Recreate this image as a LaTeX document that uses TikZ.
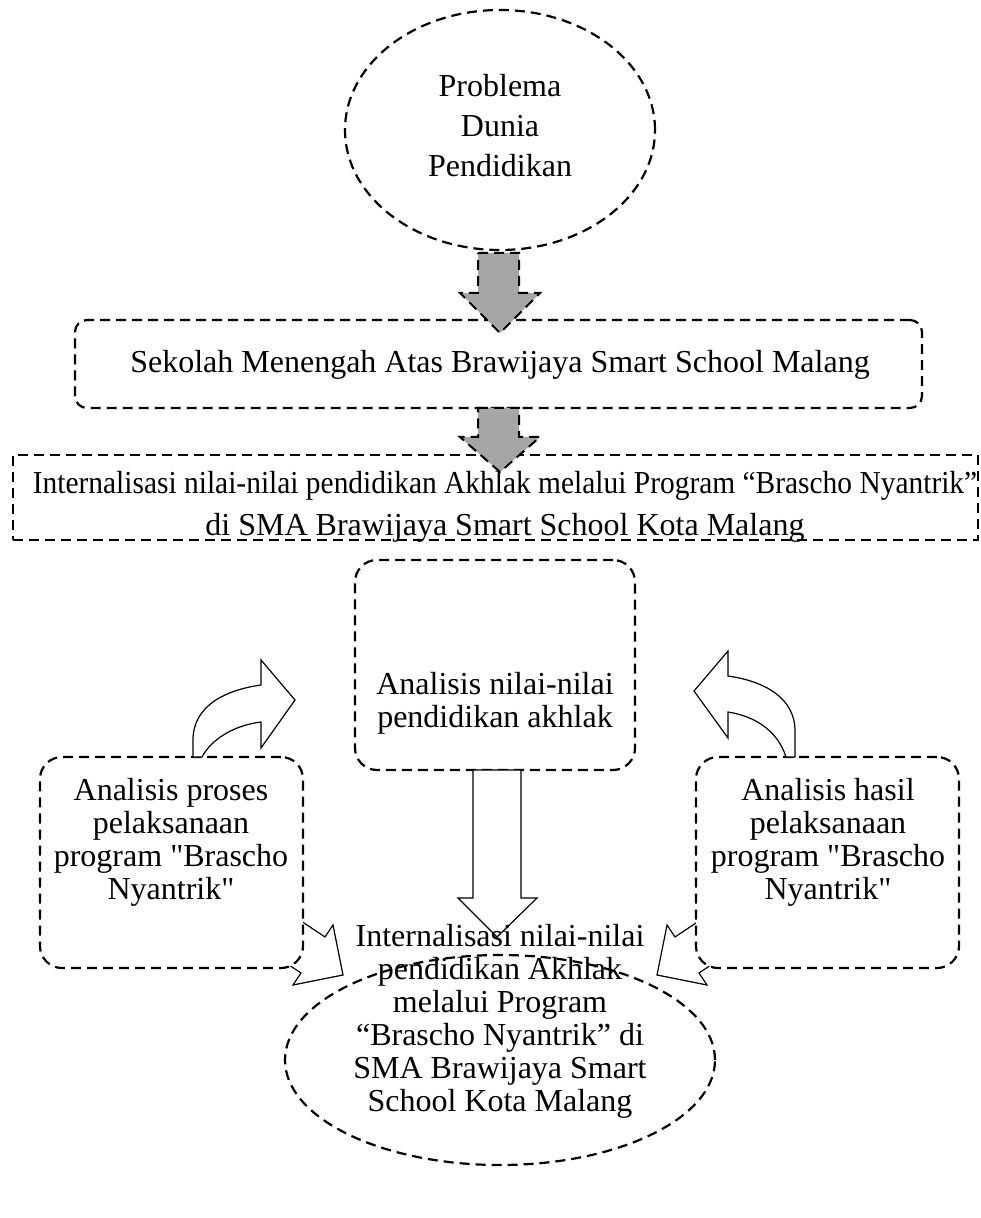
\documentclass[tikz,border=0pt]{standalone}
\usepackage{fontspec}
\usepackage{graphicx}
\setmainfont{Liberation Serif}[Ligatures=TeXOff]
\usetikzlibrary{shapes.geometric}
\definecolor{arrgray}{RGB}{166,166,166}
\begin{document}
\begin{tikzpicture}[x=0.5pt,y=-0.5pt,
  dsh/.style={draw=black, line width=1.1pt, dash pattern=on 5pt off 3pt},
  rbox/.style={dsh, fill=white, rounded corners=11pt, inner sep=0pt},
  txt/.style={align=center, inner sep=0pt, font=\fontsize{16}{16.5}\selectfont},
  grayarrow/.style={dsh, fill=arrgray, line width=1pt},
  whitearrow/.style={draw=black, fill=white, line width=0.6pt, line join=miter}]
\useasboundingbox (0,0) rectangle (980,1218);

% diagonal arrows (behind boxes)
\draw[whitearrow] (250.1,887) -- (325,937) -- (333,925) -- (343,975) -- (293,985) -- (301,973) -- (226.1,923) -- cycle;
\draw[whitearrow] (749.9,887) -- (675,937) -- (667,925) -- (657,975) -- (707,985) -- (699,973) -- (773.9,923) -- cycle;

% top ellipse
\node[dsh, ellipse, minimum width=155pt, minimum height=120pt, inner sep=0pt] (e1) at (500,130) {};
\node[txt, font=\fontsize{16}{20}\selectfont] (e1t) at (500,126) {Problema\\Dunia\\Pendidikan};

% box 2
\node[rbox, rounded corners=6pt, minimum width=423.5pt, minimum height=44pt] (b2) at (498.5,364) {};
\node[txt] (b2t) at (500,365) {Sekolah Menengah Atas Brawijaya Smart School Malang};

% box 3
\node[dsh, fill=white, inner sep=0pt, minimum width=482.5pt, minimum height=42.5pt] (b3) at (495.5,497.5) {};
\node[txt, font=\fontsize{16}{21}\selectfont] (b3t) at (505,507) {\scalebox{0.92}[1]{Internalisasi nilai-nilai pendidikan Akhlak melalui Program “Brascho Nyantrik”}\\di SMA Brawijaya Smart School Kota Malang};

% gray arrows
\draw[grayarrow] (478,253) -- (519,253) -- (519,293) -- (540,293) -- (500,333) -- (460,293) -- (478,293) -- cycle;
\draw[grayarrow] (478,408) -- (519,408) -- (519,437) -- (540,437) -- (500,472) -- (460,437) -- (478,437) -- cycle;

% center, left, right boxes
\node[rbox, minimum width=140pt, minimum height=105pt] (bc) at (495,665) {};
\node[txt] (bct) at (495,703) {Analisis nilai-nilai\\pendidikan akhlak};
\node[rbox, minimum width=131.5pt, minimum height=105.5pt] (bl) at (171.5,862.5) {};
\node[txt] (blt) at (171,842) {Analisis proses\\pelaksanaan\\program "Brascho\\Nyantrik"};
\node[rbox, minimum width=131.5pt, minimum height=105.5pt] (br) at (827.5,862.5) {};
\node[txt] (brt) at (828,842) {Analisis hasil\\pelaksanaan\\program "Brascho\\Nyantrik"};

% curved arrows
\draw[whitearrow] (193,757) -- (193,740) .. controls (193,706) and (225,690) .. (261,685) -- (261,660) -- (295,700) -- (261,748) -- (261,722) .. controls (236,725) and (212,738) .. (202,757) -- cycle;
\draw[whitearrow] (795,757) -- (795,731) .. controls (795,697) and (763,681) .. (728,676) -- (728,651) -- (694,691) -- (728,738) -- (728,712) .. controls (753,716) and (777,729) .. (786,757) -- cycle;

% center white arrow
\draw[whitearrow] (473,770) -- (521,770) -- (521,898) -- (537,898) -- (497,937) -- (458,898) -- (473,898) -- cycle;

% bottom ellipse
\node[dsh, ellipse, minimum width=215pt, minimum height=105pt, inner sep=0pt] (e2) at (500,1060) {};
\node[txt] (e2t) at (500,1021) {Internalisasi nilai-nilai\\pendidikan Akhlak\\melalui Program\\“Brascho Nyantrik” di\\SMA Brawijaya Smart\\School Kota Malang};
\end{tikzpicture}
\end{document}
